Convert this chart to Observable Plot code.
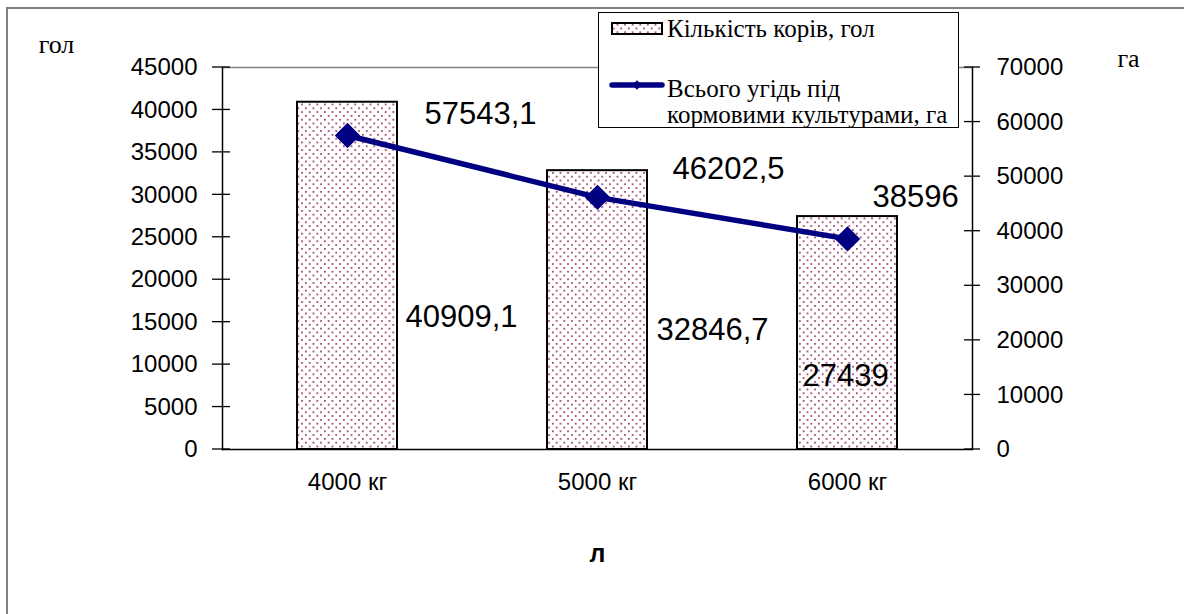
<!DOCTYPE html>
<html><head><meta charset="utf-8">
<script src="https://cdn.jsdelivr.net/npm/d3@7"></script>
<script src="https://cdn.jsdelivr.net/npm/@observablehq/plot@0.6"></script>
<style>
html,body{margin:0;padding:0;background:#fff;overflow:hidden;}
#wrap{position:relative;width:1184px;height:614px;overflow:hidden;background:#fff;}
#chart{position:absolute;left:0;top:0;}
#overlay{position:absolute;left:0;top:0;}
</style></head>
<body>
<div id="wrap"><div id="chart"></div><svg id="overlay" width="1184" height="614"></svg></div>
<script>
// ---- data ----
const categories = ["4000 кг", "5000 кг", "6000 кг"];
const cows = [40909.1, 32846.7, 27439];          // Кількість корів, гол (left axis)
const land = [57543.1, 46202.5, 38596];          // Всього угідь під кормовими культурами, га (right axis)
const leftTicks = [0, 5000, 10000, 15000, 20000, 25000, 30000, 35000, 40000, 45000];
const rightTicks = [0, 10000, 20000, 30000, 40000, 50000, 60000, 70000];
const legendLabels = ["Кількість корів, гол", "Всього угідь під", "кормовими культурами, га"];

const leftMax = 45000, rightMax = 70000;
const ratio = leftMax / rightMax;
const rows = categories.map((c, i) => ({cat: c, cows: cows[i], land: land[i], landScaled: land[i] * ratio}));
const fmt = v => String(v).replace(".", ",");

const lineLabelOffsets = [[77, -21], [75, -28], [25, -42]];
const barLabelOffsets = [[58, -132], [59, -119], [-45, -73]];
const sans = "Liberation Sans, Arial, sans-serif";
const serif = "Liberation Serif, Times New Roman, serif";
const navy = "#000080";

const marks = [
  Plot.frame({anchor: "top", stroke: "#808080", strokeWidth: 1.5}),
  Plot.barY(rows, {x: "cat", y: "cows", fill: "url(#dots)", stroke: "#000", strokeWidth: 2}),
  Plot.ruleY([0], {stroke: "#000", strokeWidth: 1.5}),
  Plot.frame({anchor: "left", stroke: "#000", strokeWidth: 1.5}),
  Plot.frame({anchor: "right", stroke: "#000", strokeWidth: 1.5}),
  Plot.axisY(leftTicks, {anchor: "left", tickSize: 0, tickPadding: 25, fontSize: 24, fontFamily: sans, label: null, tickFormat: d => String(d)}),
  Plot.axisY(rightTicks.map(t => t * ratio), {anchor: "right", tickSize: 0, tickPadding: 24, fontSize: 24, fontFamily: sans, label: null, tickFormat: d => String(Math.round(d / ratio))}),
  Plot.axisX({tickSize: 0, tickPadding: 23, fontSize: 24, fontFamily: sans, label: null}),
  Plot.line(rows, {x: "cat", y: "landScaled", stroke: navy, strokeWidth: 5.5}),
  Plot.dot(rows, {x: "cat", y: "landScaled", symbol: "diamond2", r: 10.5, fill: navy, stroke: navy}),
  ...rows.map((d, i) => Plot.text([d], {x: "cat", y: "landScaled", text: d => fmt(d.land), textAnchor: "start", dx: lineLabelOffsets[i][0], dy: lineLabelOffsets[i][1], fontSize: 31, fontFamily: sans, fill: "#000"})),
  ...rows.map((d, i) => Plot.text([d], {x: "cat", y: 0, text: d => fmt(d.cows), textAnchor: "start", dx: barLabelOffsets[i][0], dy: barLabelOffsets[i][1], fontSize: 31, fontFamily: sans, fill: "#000"})),
  Plot.text(["гол"], {frameAnchor: "top-left", text: d => d, textAnchor: "middle", lineAnchor: "middle", dx: -166, dy: -23, fontSize: 26, fontFamily: serif, fill: "#000"}),
  Plot.text(["га"], {frameAnchor: "top-right", text: d => d, textAnchor: "middle", lineAnchor: "middle", dx: 156, dy: -9, fontSize: 26, fontFamily: serif, fill: "#000"}),
  Plot.text(["л"], {frameAnchor: "bottom", text: d => d, textAnchor: "middle", lineAnchor: "middle", dy: 104.5, fontSize: 25, fontWeight: "bold", fontFamily: sans, fill: "#000"})
];

const chart = Plot.plot({
  width: 1184, height: 614,
  marginLeft: 222, marginRight: 212, marginTop: 67, marginBottom: 165,
  x: {domain: categories, paddingInner: 0.6, paddingOuter: 0.3, axis: null},
  y: {domain: [0, leftMax], axis: null},
  style: {background: "transparent", color: "#000", fontFamily: sans},
  marks
});

const svg = d3.select(chart);
const defs = svg.insert("defs", ":first-child");
function addPattern(sel, id) {
  const s = 7.6;
  const p = sel.append("pattern").attr("id", id).attr("patternUnits", "userSpaceOnUse").attr("width", s).attr("height", s);
  p.append("rect").attr("width", s).attr("height", s).attr("fill", "#fff");
  p.append("rect").attr("x", 1).attr("y", 1).attr("width", 1.7).attr("height", 1.7).attr("fill", "#993366");
  p.append("rect").attr("x", 1 + s / 2).attr("y", 1 + s / 2).attr("width", 1.7).attr("height", 1.7).attr("fill", "#993366");
}
addPattern(defs, "dots");

const ys = chart.scale("y");
const xL = 222, xR = 1184 - 212;
const tg = svg.append("g").attr("stroke", "#000").attr("stroke-width", 1.3);
leftTicks.forEach(t => {
  const y = ys.apply(t);
  tg.append("line").attr("x1", xL - 10).attr("x2", xL + 8).attr("y1", y).attr("y2", y);
});
rightTicks.forEach(t => {
  const y = ys.apply(t * ratio);
  tg.append("line").attr("x1", xR - 8).attr("x2", xR + 8).attr("y1", y).attr("y2", y);
});
document.getElementById("chart").appendChild(chart);

const lg = d3.select("#overlay");
lg.append("rect").attr("x", 1160).attr("y", 9).attr("width", 24).attr("height", 605).attr("fill", "#fff");
lg.append("path").attr("d", "M7,614V8H1184").attr("fill", "none").attr("stroke", "#808080").attr("stroke-width", 2);
addPattern(lg.append("defs"), "dots2");
lg.append("rect").attr("x", 598.5).attr("y", 12.5).attr("width", 360).attr("height", 115).attr("fill", "#fff").attr("stroke", "#000").attr("stroke-width", 1);
lg.append("rect").attr("x", 612).attr("y", 23).attr("width", 50).attr("height", 11).attr("fill", "url(#dots2)").attr("stroke", "#000").attr("stroke-width", 2);
lg.append("line").attr("x1", 612).attr("x2", 662).attr("y1", 85).attr("y2", 85).attr("stroke", navy).attr("stroke-width", 5.5).attr("stroke-linecap", "round");
lg.append("path").attr("d", d3.symbol(d3.symbolDiamond2, 60)()).attr("transform", "translate(637,85)").attr("fill", navy);
const lt = [[667, 37], [667, 97], [667, 123]];
legendLabels.forEach((t, i) => {
  lg.append("text").attr("x", lt[i][0]).attr("y", lt[i][1]).attr("font-family", serif).attr("font-size", 25).attr("fill", "#000").text(t);
});
</script>
</body></html>
